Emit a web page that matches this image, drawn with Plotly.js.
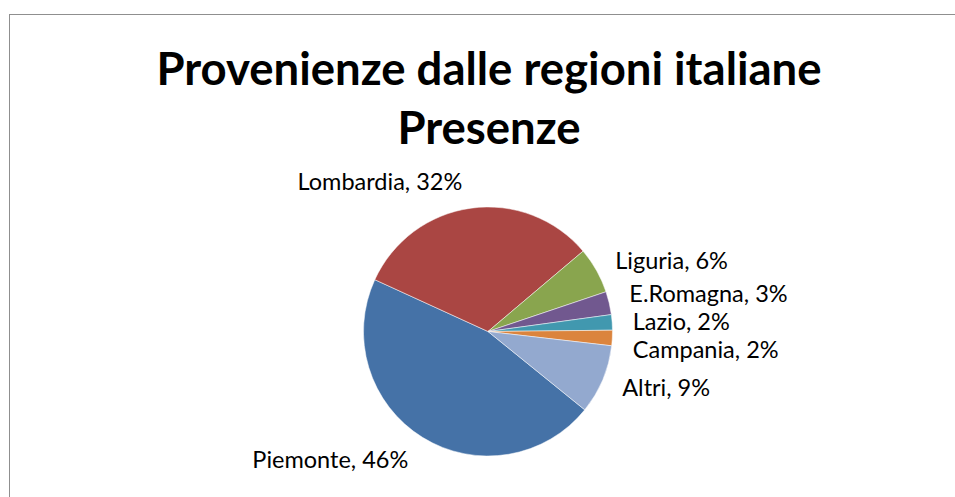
<!DOCTYPE html>
<html>
<head>
<meta charset="utf-8">
<script src="https://cdn.plot.ly/plotly-3.0.1.min.js"></script>
<style>
  html, body { margin: 0; padding: 0; background: #ffffff; overflow: hidden; }
  #chart { position: absolute; left: 0; top: 0; width: 955px; height: 497px; }
  #frame { position: absolute; left: 9px; top: 14px; width: 1000px; height: 600px;
           border: 1.5px solid #8f8f8f; pointer-events: none; box-sizing: border-box; }
  #chart .textline { display: none; }
</style>
</head>
<body>
<div id="chart"></div>
<div id="frame"></div>
<script>
const titleLines = ['Provenienze dalle regioni italiane', 'Presenze'];
const regions = ['Piemonte', 'Lombardia', 'Liguria', 'E.Romagna', 'Lazio', 'Campania', 'Altri'];
const shares = [46, 32, 6, 3, 2, 2, 9];
const sliceColors = ['#4572A7', '#AA4643', '#89A54E', '#71588F', '#4198AF', '#DB843D', '#93A9CF'];

const FONT = 'Lato, "Liberation Sans", sans-serif';
const W = 955, H = 497;
const CX = 488, CY = 331.5, R = 124.5, R_LABEL = 138;

function dom(r) {
  return { x: [(CX - r) / W, (CX + r) / W], y: [(H - CY - r) / H, (H - CY + r) / H] };
}

const common = {
  type: 'pie',
  labels: regions,
  values: shares,
  sort: false,
  direction: 'clockwise',
  rotation: 129,
  hoverinfo: 'none',
  automargin: false,
  showlegend: false
};

// visible slices
const slices = Object.assign({}, common, {
  marker: { colors: sliceColors, line: { color: '#ffffff', width: 0.5 } },
  textinfo: 'none',
  domain: dom(R)
});

// same data, invisible wider ring that only carries the outside labels
const labelsTrace = Object.assign({}, common, {
  marker: { colors: regions.map(() => 'rgba(0,0,0,0)'), line: { width: 0 } },
  textposition: 'outside',
  texttemplate: '%{label}, %{percent:.0%}',
  outsidetextfont: { family: FONT, size: 23.5, color: '#000000' },
  domain: dom(R_LABEL)
});

const layout = {
  width: W,
  height: H,
  margin: { l: 0, r: 0, t: 0, b: 0 },
  paper_bgcolor: '#ffffff',
  showlegend: false,
  title: {
    text: titleLines.join('<br>'),
    font: { family: FONT, size: 45.5, color: '#000000', weight: 'bold' },
    x: 489 / W, xanchor: 'center',
    y: 1 - 85 / H, yanchor: 'top'
  }
};

Plotly.newPlot('chart', [labelsTrace, slices], layout, { staticPlot: true, displayModeBar: false });
</script>
</body>
</html>
